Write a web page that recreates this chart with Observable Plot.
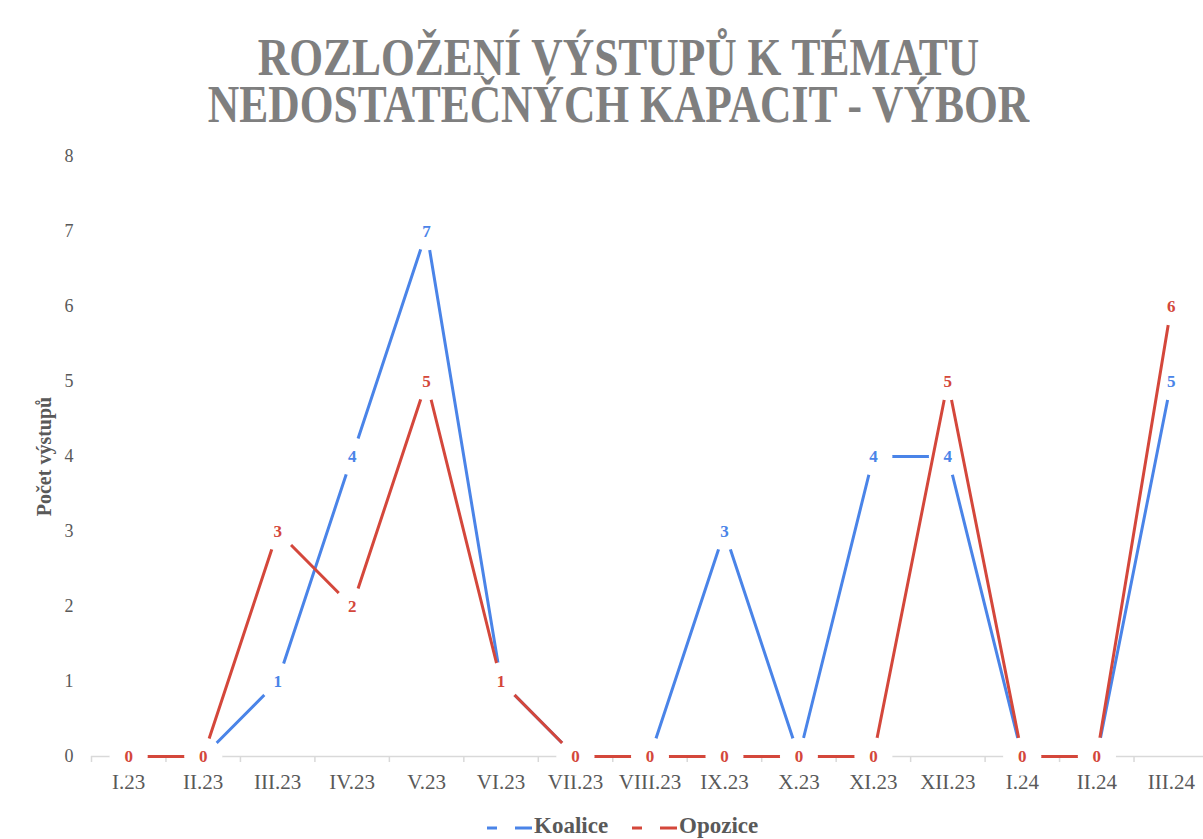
<!DOCTYPE html>
<html>
<head>
<meta charset="utf-8">
<script src="https://cdn.jsdelivr.net/npm/d3@7"></script>
<script src="https://cdn.jsdelivr.net/npm/@observablehq/plot@0.6"></script>
<style>
  body { margin: 0; background: #fff; width: 1203px; height: 839px; overflow: hidden; position: relative;
         font-family: "Liberation Serif", "Times New Roman", serif; }
  #title { position: relative; height: 135px; }
  #title div { position: absolute; left: 0; top: 34px; width: 1203px; padding-left: 34px; box-sizing: border-box;
               text-align: center; font-weight: bold; font-size: 43.5px; line-height: 38.84px; color: #7f7f7f;
               white-space: nowrap; transform-origin: center top; transform: scaleY(1.21); }
  #chart svg { display: block; }
  #legend { position: absolute; left: 487px; top: 814px; display: flex; align-items: center;
            font-weight: bold; font-size: 23px; line-height: 1; color: #595959; }
  #legend .item { display: flex; align-items: center; margin-right: 24px; }
  #legend svg { display: block; margin-right: 1px; }
</style>
</head>
<body>
<div id="title"></div>
<div id="chart"></div>
<div id="legend"></div>
<script>
// ---- data ----
const titleLines = ["ROZLOŽENÍ VÝSTUPŮ K TÉMATU", "NEDOSTATEČNÝCH KAPACIT - VÝBOR"];
const months = ["I.23", "II.23", "III.23", "IV.23", "V.23", "VI.23", "VII.23", "VIII.23",
                "IX.23", "X.23", "XI.23", "XII.23", "I.24", "II.24", "III.24"];
const koalice = [0, 0, 1, 4, 7, 1, 0, 0, 3, 0, 4, 4, 0, 0, 5];
const opozice = [0, 0, 3, 2, 5, 1, 0, 0, 0, 0, 0, 5, 0, 0, 6];
const yTicks = [0, 1, 2, 3, 4, 5, 6, 7, 8];
const seriesNames = ["Koalice", "Opozice"];
const seriesColors = ["#4a84e8", "#d4473b"];
const yLabel = "Počet výstupů";

// ---- title (one text block, two lines) ----
const titleEl = document.getElementById("title");
const td = document.createElement("div");
titleLines.forEach((t, i) => {
  if (i > 0) td.appendChild(document.createElement("br"));
  td.appendChild(document.createTextNode(t));
});
titleEl.appendChild(td);

// ---- chart ----
const blue = months.map((m, i) => ({month: m, value: koalice[i]}));
const red = months.map((m, i) => ({month: m, value: opozice[i]}));
const xRange = [91, 1208];
const bw = (xRange[1] - xRange[0]) / months.length;

const labelStyle = {fontSize: 17, fontWeight: "bold"};
const boxStyle = {r: 19, fill: "white", stroke: "none"};

const chart = Plot.plot({
  width: 1203,
  height: 665,
  marginLeft: 91,
  marginRight: 0,
  marginTop: 21,
  marginBottom: 44,
  style: {fontFamily: "'Liberation Serif', 'Times New Roman', serif", background: "white", color: "#595959", overflow: "visible"},
  x: {type: "band", domain: months, range: xRange, padding: 0, round: false},
  y: {domain: [0, 8], range: [621, 21]},
  marks: [
    Plot.ruleY([0], {stroke: "#d9d9d9", strokeWidth: 1.5}),
    Plot.ruleX(months, {x: d => d, y1: 0, y2: 0, insetBottom: -6, dx: -bw / 2, stroke: "#d9d9d9", strokeWidth: 1.5}),
    Plot.axisY({ticks: yTicks, tickSize: 0, tickPadding: 18, fontSize: 18, label: null, tickFormat: d => String(d)}),
    Plot.axisX({tickSize: 0, tickPadding: 18, fontSize: 21, label: null}),
    Plot.text([yLabel], {frameAnchor: "left", textAnchor: "middle", rotate: -90, dx: -47, fontSize: 20, fontWeight: "bold", fill: "#595959"}),
    // Koalice: line, label boxes, labels
    Plot.line(blue, {x: "month", y: "value", stroke: seriesColors[0], strokeWidth: 3}),
    Plot.dot(blue, {x: "month", y: "value", ...boxStyle}),
    Plot.text(blue, {x: "month", y: "value", text: d => String(d.value), fill: seriesColors[0], ...labelStyle}),
    // Opozice: line, label boxes, labels
    Plot.line(red, {x: "month", y: "value", stroke: seriesColors[1], strokeWidth: 3}),
    Plot.dot(red, {x: "month", y: "value", ...boxStyle}),
    Plot.text(red, {x: "month", y: "value", text: d => String(d.value), fill: seriesColors[1], ...labelStyle})
  ]
});
document.getElementById("chart").appendChild(chart);

// ---- legend ----
const legend = document.getElementById("legend");
seriesNames.forEach((name, i) => {
  const item = document.createElement("div");
  item.className = "item";
  const ns = "http://www.w3.org/2000/svg";
  const sw = document.createElementNS(ns, "svg");
  sw.setAttribute("width", 46);
  sw.setAttribute("height", 14);
  const ln = document.createElementNS(ns, "line");
  ln.setAttribute("x1", 0); ln.setAttribute("x2", 45);
  ln.setAttribute("y1", 9); ln.setAttribute("y2", 9);
  ln.setAttribute("stroke", seriesColors[i]);
  ln.setAttribute("stroke-width", 3);
  ln.setAttribute("stroke-dasharray", "10 18 17 100");
  sw.appendChild(ln);
  const tx = document.createElement("span");
  tx.textContent = name;
  item.appendChild(sw);
  item.appendChild(tx);
  legend.appendChild(item);
});
</script>
</body>
</html>
